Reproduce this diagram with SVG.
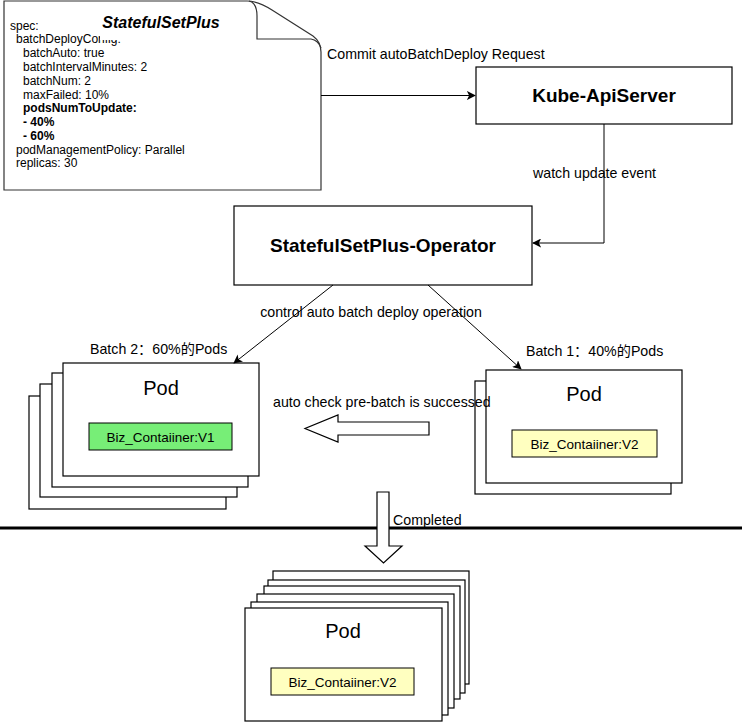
<svg xmlns="http://www.w3.org/2000/svg" width="742" height="722" viewBox="0 0 742 722">
<style>
text{font-family:"Liberation Sans",Arial,Helvetica,"Noto Sans CJK SC",sans-serif;fill:#000}
.box{fill:#fff;stroke:#000;stroke-width:1.2}
.doc{font-size:12px}
.lbl{font-size:14.2px}
.title{font-size:19px;font-weight:bold}
.pod{font-size:20px}
.biz{font-size:13.5px}
.edge{fill:none;stroke:#000;stroke-width:1}
.green{fill:#77EE77;stroke:#000;stroke-width:1}
.yellow{fill:#FFFFC0;stroke:#000;stroke-width:1}
</style>
<defs>
<marker id="arr" viewBox="0 0 10 10" refX="9" refY="5" markerWidth="9" markerHeight="9" markerUnits="userSpaceOnUse" orient="auto">
<path d="M0,0 L10,5 L0,10 L2.5,5 Z" fill="#000"/>
</marker>
</defs>
<rect width="742" height="722" fill="#fff"/>

<g id="statefulsetplus-doc">
<path d="M4,1 L247,1 Q258,1 272,10 L313,36 Q321,42 321,52 L321,190 L4,190 Z" fill="#fff" stroke="#333" stroke-width="1.2"/>
<path d="M249,1 Q257,3 257,16 L257,39 L311,39 Q318,40 321,48" fill="none" stroke="#333" stroke-width="1.2"/>
<text class="doc" x="10" y="29.5">spec:</text>
<text class="doc" x="16" y="43.3">batchDeployConfig:</text>
<rect x="100" y="8" width="122" height="32" fill="#fff"/>
<text x="161" y="28.3" text-anchor="middle" style="font-size:16px;font-weight:bold;font-style:italic">StatefulSetPlus</text>
<text class="doc" x="23" y="57.3">batchAuto: true</text>
<text class="doc" x="23" y="71">batchIntervalMinutes: 2</text>
<text class="doc" x="23" y="84.7">batchNum: 2</text>
<text class="doc" x="23" y="98.5">maxFailed: 10%</text>
<text class="doc" x="23" y="112.2" font-weight="bold">podsNumToUpdate:</text>
<text class="doc" x="23" y="126" font-weight="bold">- 40%</text>
<text class="doc" x="23" y="139.7" font-weight="bold">- 60%</text>
<text class="doc" x="16" y="153.5">podManagementPolicy: Parallel</text>
<text class="doc" x="16" y="167.2">replicas: 30</text>
</g>

<g id="kube-apiserver">
<rect class="box" x="476" y="67" width="256" height="57"/>
<text class="title" x="604" y="102" text-anchor="middle">Kube-ApiServer</text>
</g>

<g id="operator">
<rect class="box" x="234" y="206" width="298" height="79"/>
<text class="title" x="383" y="252" text-anchor="middle">StatefulSetPlus-Operator</text>
</g>

<g id="batch2-pods">
<rect class="box" x="29" y="396" width="197" height="113"/>
<rect class="box" x="40" y="384" width="197" height="113"/>
<rect class="box" x="52" y="373" width="196" height="114"/>
<rect class="box" x="63" y="363" width="196" height="113"/>
<text class="pod" x="161" y="395" text-anchor="middle">Pod</text>
<rect class="green" x="89" y="423" width="143" height="27"/>
<text class="biz" x="160.5" y="441.5" text-anchor="middle">Biz_Contaiiner:V1</text>
</g>

<g id="batch1-pods">
<rect class="box" x="475" y="381" width="196" height="113"/>
<rect class="box" x="486" y="370" width="196" height="113"/>
<text class="pod" x="584" y="401" text-anchor="middle">Pod</text>
<rect class="yellow" x="512" y="430" width="145" height="27"/>
<text class="biz" x="584.5" y="448.5" text-anchor="middle">Biz_Contaiiner:V2</text>
</g>

<g id="completed-pods">
<rect class="box" x="273" y="571" width="196" height="113"/>
<rect class="box" x="268" y="580" width="197" height="113"/>
<rect class="box" x="264" y="586" width="196" height="113"/>
<rect class="box" x="257" y="594" width="197" height="114"/>
<rect class="box" x="251" y="602" width="197" height="113"/>
<rect class="box" x="245" y="608" width="197" height="113"/>
<text class="pod" x="343" y="638" text-anchor="middle">Pod</text>
<rect class="yellow" x="271" y="668" width="143" height="27"/>
<text class="biz" x="342.5" y="686.5" text-anchor="middle">Biz_Contaiiner:V2</text>
</g>

<g id="divider">
<line x1="0" y1="528" x2="742" y2="528" stroke="#000" stroke-width="3.2"/>
</g>

<g id="connectors">
<line class="edge" x1="321" y1="95.5" x2="475" y2="95.5" marker-end="url(#arr)"/>
<polyline class="edge" points="604,124 604,243 533,243" marker-end="url(#arr)"/>
<line class="edge" x1="333" y1="285" x2="234" y2="363" marker-end="url(#arr)"/>
<line class="edge" x1="428" y1="285" x2="521" y2="369" marker-end="url(#arr)"/>
<polygon points="429,422 429,435 338,435 338,442 305,428.5 338,415 338,422" fill="#fff" stroke="#000" stroke-width="1.2"/>
<polygon points="377,492 389,492 389,546 402,546 383.5,563 365,546 377,546" fill="#fff" stroke="#000" stroke-width="1.2"/>
</g>

<g id="labels">
<text class="lbl" x="327" y="59">Commit autoBatchDeploy Request</text>
<text class="lbl" x="533" y="178">watch update event</text>
<text class="lbl" x="371" y="317" text-anchor="middle">control auto batch deploy operation</text>
<text class="lbl" x="90" y="354">Batch 2：60%的Pods</text>
<text class="lbl" x="526" y="356">Batch 1：40%的Pods</text>
<text class="lbl" x="273" y="407">auto check pre-batch is successed</text>
<text class="lbl" x="393" y="525">Completed</text>
</g>
</svg>
